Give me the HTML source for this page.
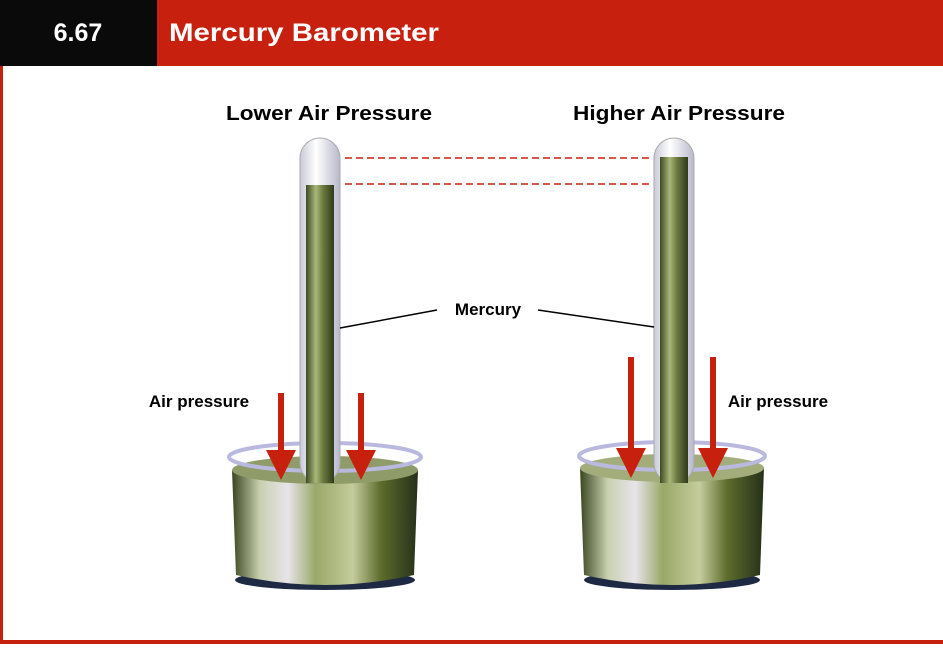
<!DOCTYPE html>
<html><head><style>
html,body{margin:0;padding:0;background:#fff}
body{width:943px;height:644px;overflow:hidden;position:relative;font-family:"Liberation Sans",sans-serif}
</style></head><body>
<svg width="943" height="644" viewBox="0 0 943 644" xmlns="http://www.w3.org/2000/svg">
<defs>
<linearGradient id="merc" x1="0" x2="1"><stop offset="0" stop-color="#3e4a22"/><stop offset=".35" stop-color="#a9b77a"/><stop offset=".6" stop-color="#6d7b40"/><stop offset="1" stop-color="#2f3a18"/></linearGradient>
<linearGradient id="glass" x1="0" x2="1"><stop offset="0" stop-color="#c9c9d8"/><stop offset=".4" stop-color="#fff"/><stop offset="1" stop-color="#b8b8cc"/></linearGradient>
<linearGradient id="pot" x1="0" x2="1"><stop offset="0" stop-color="#3a4620"/><stop offset=".15" stop-color="#c8d0b0"/><stop offset=".3" stop-color="#e8e4ea"/><stop offset=".45" stop-color="#9aa868"/><stop offset=".65" stop-color="#c4cc9c"/><stop offset=".8" stop-color="#5d6c2c"/><stop offset="1" stop-color="#26301a"/></linearGradient>
</defs>
<rect x="0" y="0" width="943" height="66" fill="#c8200f"/>
<rect x="0" y="0" width="157" height="66" fill="#0a0a0a"/>
<text x="78" y="41" fill="#fff" font-size="25" font-weight="bold" text-anchor="middle">6.67</text>
<text x="169" y="41" fill="#fff" font-size="25" font-weight="bold" textLength="270" lengthAdjust="spacingAndGlyphs">Mercury Barometer</text>
<rect x="0" y="66" width="3" height="578" fill="#c8200f"/>
<rect x="0" y="640" width="943" height="4" fill="#c8200f"/>
<text x="226" y="120" font-size="20" font-weight="bold" textLength="206" lengthAdjust="spacingAndGlyphs">Lower Air Pressure</text>
<text x="573" y="120" font-size="20" font-weight="bold" textLength="212" lengthAdjust="spacingAndGlyphs">Higher Air Pressure</text>
<line x1="345" y1="158" x2="652" y2="158" stroke="#c8200f" stroke-width="1.5" stroke-dasharray="7,4"/>
<line x1="345" y1="184" x2="652" y2="184" stroke="#c8200f" stroke-width="1.5" stroke-dasharray="7,4"/>
<ellipse cx="325" cy="580" rx="90" ry="10" fill="#1e2a44"/>
<path d="M232 470 L236 575 Q325 595 414 575 L418 470 Z" fill="url(#pot)"/>
<ellipse cx="325" cy="470" rx="93" ry="14" fill="#8f9c6a"/>
<ellipse cx="325" cy="457" rx="96" ry="14" fill="none" stroke="#b9b9e0" stroke-width="4"/>
<rect x="300" y="138" width="40" height="345" rx="20" fill="url(#glass)" stroke="#aaa" stroke-width="1"/>
<rect x="306" y="185" width="28" height="298" fill="url(#merc)"/>
<ellipse cx="672" cy="580" rx="88" ry="10" fill="#1e2a44"/>
<path d="M580 468 L584 575 Q672 595 760 575 L764 468 Z" fill="url(#pot)"/>
<ellipse cx="672" cy="468" rx="92" ry="14" fill="#a3ad7c"/>
<ellipse cx="672" cy="456" rx="93" ry="14" fill="none" stroke="#b9b9e0" stroke-width="4"/>
<rect x="654" y="138" width="40" height="345" rx="20" fill="url(#glass)" stroke="#aaa" stroke-width="1"/>
<rect x="660" y="157" width="28" height="326" fill="url(#merc)"/>
<g fill="#c8200f">
<rect x="278" y="393" width="6" height="60"/><polygon points="266,450 296,450 281,480"/>
<rect x="358" y="393" width="6" height="60"/><polygon points="346,450 376,450 361,480"/>
<rect x="628" y="357" width="6" height="95"/><polygon points="616,448 646,448 631,478"/>
<rect x="710" y="357" width="6" height="95"/><polygon points="698,448 728,448 713,478"/>
</g>
<text x="488" y="315" font-size="17" font-weight="bold" text-anchor="middle">Mercury</text>
<line x1="437" y1="310" x2="340" y2="328" stroke="#000" stroke-width="1.5"/>
<line x1="538" y1="310" x2="654" y2="327" stroke="#000" stroke-width="1.5"/>
<text x="199" y="407" font-size="17" font-weight="bold" text-anchor="middle">Air pressure</text>
<text x="778" y="407" font-size="17" font-weight="bold" text-anchor="middle">Air pressure</text>
</svg>
</body></html>
